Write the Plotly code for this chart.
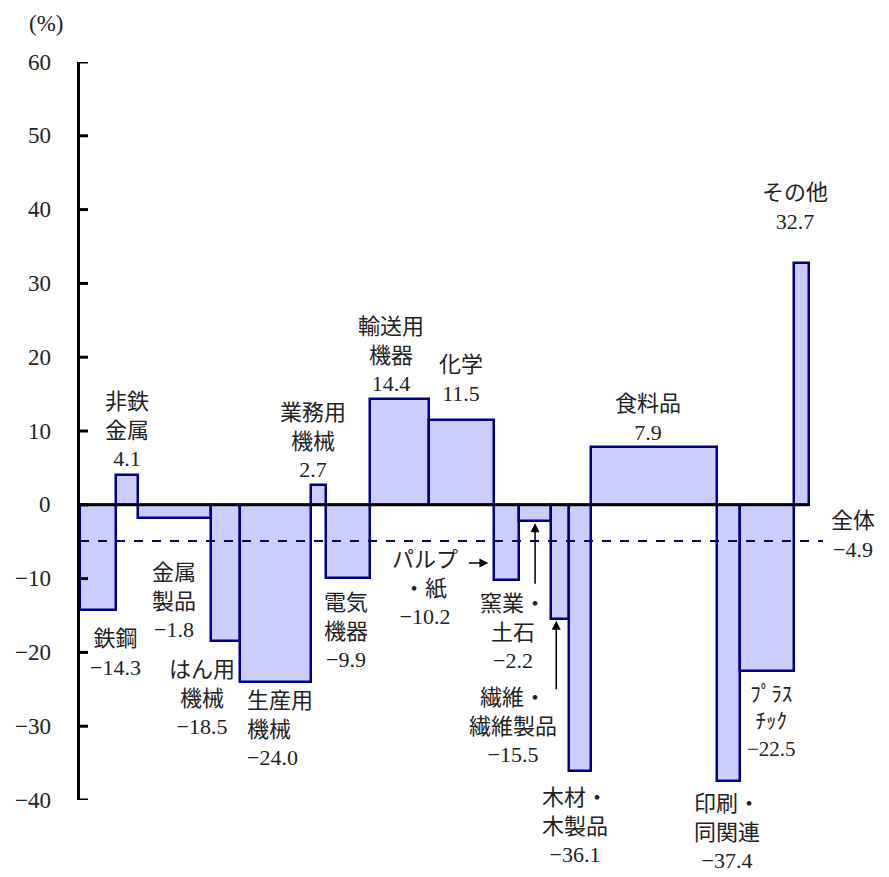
import plotly.graph_objects as go

# ---- data ----
categories = ["鉄鋼", "非鉄金属", "金属製品", "はん用機械", "生産用機械", "業務用機械",
              "電気機器", "輸送用機器", "化学", "パルプ・紙", "窯業・土石", "繊維・繊維製品",
              "木材・木製品", "食料品", "印刷・同関連", "プラスチック", "その他"]
values = [-14.3, 4.1, -1.8, -18.5, -24.0, 2.7, -9.9, 14.4, 11.5, -10.2, -2.2, -15.5,
          -36.1, 7.9, -37.4, -22.5, 32.7]
widths = [5.0, 2.9, 10.1, 4.0, 9.7, 2.0, 6.0, 8.2, 8.9, 3.4, 4.4, 2.4, 3.1, 17.2, 3.2, 7.4, 2.1]
label_texts = ["鉄鋼", "非鉄<br>金属", "金属<br>製品", "はん用<br>機械", "生産用<br>機械",
               "業務用<br>機械", "電気<br>機器", "輸送用<br>機器", "化学", "パルプ<br>・紙",
               "窯業・<br>土石", "繊維・<br>繊維製品", "木材・<br>木製品", "食料品",
               "印刷・<br>同関連", "ﾌﾟﾗｽ<br>ﾁｯｸ", "その他"]
total_value = -4.9
total_label = "全体"
y_ticks = [60, 50, 40, 30, 20, 10, 0, -10, -20, -30, -40]

# ---- derived positions ----
lefts = []
acc = 0.0
for w in widths:
    lefts.append(acc)
    acc += w
centers = [l + w / 2 for l, w in zip(lefts, widths)]
x_total = acc

FONT = "Liberation Serif, Noto Sans CJK JP, serif"
W, H = 889, 877
L, R, T, B = 80, 823, 62, 800
XMAX = x_total + (R - 809.3) / ((809.3 - L) / x_total)


def fmt(v):
    s = f"{abs(v):.1f}"
    return ("−" + s) if v < 0 else s


def fmt_tick(v):
    return ("−" + str(abs(v))) if v < 0 else str(v)


def px(xp):
    return (xp - L) / (R - L)


def py(yp):
    return (B - yp) / (B - T)


fig = go.Figure()
fig.add_trace(go.Bar(
    x=centers, y=values, width=widths,
    marker=dict(color="#CCCCFF", line=dict(color="#000080", width=2.5)),
    showlegend=False,
))

# zero line and total (average) line
fig.add_shape(type="line", xref="x", yref="y", x0=0, x1=x_total, y0=0, y1=0,
              line=dict(color="black", width=3), layer="above")
fig.add_shape(type="line", xref="paper", yref="y", x0=0, x1=1, y0=total_value, y1=total_value,
              line=dict(color="#000080", width=2, dash="dash"), layer="above")

# y-axis tick marks (inside) and labels, placed on the y scale
for t in y_ticks:
    fig.add_shape(type="line", xref="paper", yref="y", x0=0, x1=px(L + 8), y0=t, y1=t,
                  line=dict(color="black", width=3), layer="above")
    fig.add_annotation(x=px(53), y=t, xref="paper", yref="y", text=fmt_tick(t),
                       showarrow=False, xanchor="right", yanchor="middle",
                       font=dict(family="Liberation Serif, serif", size=23, color="#222222"))

# label placements (pixel centre of text block, alignment, font size)
placements = [
    (115, 653, "center", 22),
    (127, 430, "center", 22),
    (174, 601, "center", 22),
    (202, 698, "center", 22),
    (245, 729, "left", 22),
    (313, 441, "center", 22),
    (346, 631, "center", 22),
    (391, 355, "center", 22),
    (461, 379, "center", 22),
    (425, 588, "center", 22),
    (513, 632, "center", 22),
    (513, 726, "center", 22),
    (575, 826, "center", 22),
    (648, 418, "center", 22),
    (727, 832, "center", 22),
    (771, 721, "center", 21),
    (795, 207, "center", 22),
]
for i, (txt, v) in enumerate(zip(label_texts, values)):
    xp, yp, al, fs = placements[i]
    fig.add_annotation(
        x=px(xp), y=py(yp), xref="paper", yref="paper", text=f"{txt}<br>{fmt(v)}",
        showarrow=False, xanchor="left" if al == "left" else "center", yanchor="middle",
        align=al, font=dict(family=FONT, size=fs, color="#222222"),
    )

# total label
fig.add_annotation(x=px(853), y=py(535), xref="paper", yref="paper",
                   text=f"{total_label}<br>{fmt(total_value)}", showarrow=False,
                   xanchor="center", yanchor="middle",
                   font=dict(family=FONT, size=22, color="#222222"))

# arrows pointing at narrow bars
idx_pulp = categories.index("パルプ・紙")
idx_yogyo = categories.index("窯業・土石")
idx_sen = categories.index("繊維・繊維製品")
arrow_style = dict(showarrow=True, arrowhead=2, arrowsize=1.2, arrowwidth=1.5,
                   arrowcolor="black", text="", xref="x", yref="y")
fig.add_annotation(x=lefts[idx_pulp] - 0.8, y=-7.9, ax=-21, ay=0, **arrow_style)
fig.add_annotation(x=centers[idx_yogyo], y=values[idx_yogyo] - 0.3, ax=0, ay=62, **arrow_style)
fig.add_annotation(x=centers[idx_sen] - 0.5, y=values[idx_sen] - 0.2, ax=0, ay=70, **arrow_style)

# (%) title
fig.add_annotation(x=px(46), y=py(23), xref="paper", yref="paper", text="(%)",
                   showarrow=False, xanchor="center", yanchor="middle",
                   font=dict(family="Liberation Serif, serif", size=23, color="#222222"))

fig.update_layout(
    width=W, height=H,
    margin=dict(l=L, r=W - R, t=T, b=H - B),
    paper_bgcolor="white", plot_bgcolor="white",
    bargap=0,
    xaxis=dict(range=[0, XMAX], showgrid=False, zeroline=False, showline=False,
               showticklabels=False, ticks=""),
    yaxis=dict(range=[-40, 60], showgrid=False, zeroline=False,
               showline=True, linecolor="black", linewidth=3,
               ticks="", showticklabels=False),
)

fig.write_html("out.html")
